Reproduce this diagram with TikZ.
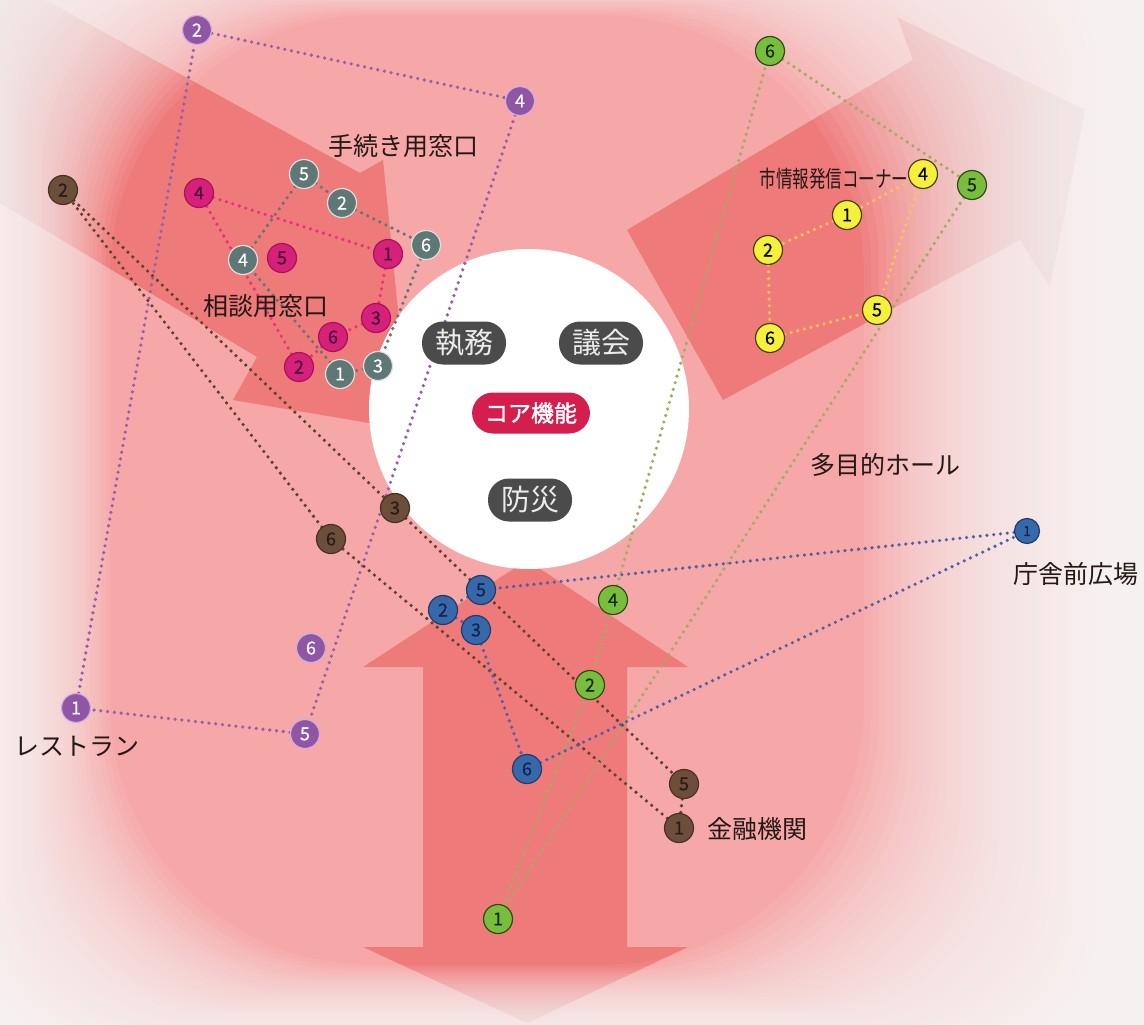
\documentclass[tikz,border=0pt]{standalone}
\usepackage{fontspec}
\usepackage{graphicx}
\newfontfamily\jp{Noto Sans CJK JP}
\newfontfamily\jpb[FakeBold=1.6]{Noto Sans CJK JP}
\newfontfamily\jpn[FakeBold=0.6]{Noto Sans CJK JP}

\definecolor{bgpink}{RGB}{246,168,168}
\definecolor{arrowc}{RGB}{238,122,122}
\definecolor{txt}{RGB}{35,24,21}
\definecolor{pillc}{RGB}{75,75,75}
\definecolor{pilltxt}{RGB}{235,235,235}
\definecolor{corec}{RGB}{212,30,78}
% node colours
\definecolor{puF}{RGB}{145,85,165}\definecolor{puD}{RGB}{205,175,220}\definecolor{puL}{RGB}{150,95,170}
\definecolor{brF}{RGB}{108,78,58}\definecolor{brD}{RGB}{70,50,35}\definecolor{brT}{RGB}{40,28,20}\definecolor{brL}{RGB}{95,65,45}
\definecolor{maF}{RGB}{215,32,122}\definecolor{maD}{RGB}{165,20,90}\definecolor{maT}{RGB}{70,15,60}\definecolor{maL}{RGB}{235,50,120}
\definecolor{grF}{RGB}{95,120,118}\definecolor{grD}{RGB}{215,225,222}\definecolor{grL}{RGB}{100,118,113}
\definecolor{yeF}{RGB}{245,240,60}\definecolor{yeD}{RGB}{70,65,20}\definecolor{yeL}{RGB}{250,195,90}
\definecolor{gnF}{RGB}{120,190,60}\definecolor{gnD}{RGB}{45,75,25}\definecolor{gnT}{RGB}{20,40,10}\definecolor{gnL}{RGB}{165,170,100}
\definecolor{blF}{RGB}{55,105,170}\definecolor{blD}{RGB}{30,60,110}\definecolor{blT}{RGB}{20,35,80}\definecolor{blL}{RGB}{85,95,160}

\pgfdeclarelayer{bg}
\pgfdeclarelayer{ln}
\pgfsetlayers{bg,ln,main}

\tikzset{
  num/.style={circle, minimum size=29pt, inner sep=0pt, line width=1.2pt, font=\jpn\fontsize{18}{18}\selectfont},
  pu/.style={num, fill=puF, draw=puD, text=white},
  br/.style={num, fill=brF, draw=brD, text=brT},
  ma/.style={num, fill=maF, draw=maD, text=maT},
  gr/.style={num, fill=grF, draw=grD, text=white},
  ye/.style={num, fill=yeF, draw=yeD, text=black},
  gn/.style={num, fill=gnF, draw=gnD, text=gnT},
  bl/.style={num, fill=blF, draw=blD, text=blT},
  dots/.style={line width=3.6pt, line cap=round, dash pattern=on 0pt off 6.8pt},
  lbl/.style={font=\jp\fontsize{25}{25}\selectfont, text=txt, inner sep=0pt},
  pill/.style={rounded corners=21pt, fill=pillc, text=pilltxt, minimum height=43pt, inner xsep=13pt, inner ysep=0pt, font=\jp\fontsize{29}{29}\selectfont},
  veil/.style={fill=white, fill opacity=0.065, even odd rule},
}

\begin{document}
\begin{tikzpicture}[x=1pt,y=-1pt]
\useasboundingbox (0,0) rectangle (1144,1025);
\begin{pgfonlayer}{bg}
  \clip (0,0) rectangle (1144,1025);
  \fill[bgpink] (0,0) rectangle (1144,1025);
  % left arrow
  \fill[arrowc] (-60,-58) -- (360,173) -- (383,160) -- (410,430) -- (233,400) -- (257,357) -- (-60,167) -- cycle;
  % right arrow
  \fill[arrowc] (627,230) -- (913,60) -- (897,17) -- (1085,110) -- (1050,287) -- (1020,240) -- (723,400) -- cycle;
  % bottom double arrow
  \fill[arrowc] (527,560) -- (688,667) -- (627,667) -- (627,947) -- (688,947) -- (527,1023) -- (363,947) -- (423,947) -- (423,667) -- (363,667) -- cycle;
  % white vignette built from nested frames
  \foreach \t in {0.025,0.05,...,1.01}{
    \pgfmathsetmacro{\xl}{-60+170*\t}
    \pgfmathsetmacro{\yt}{-80+95*\t}
    \pgfmathsetmacro{\xr}{1164-300*\t}
    \pgfmathsetmacro{\yb}{1075-110*\t}
    \pgfmathsetmacro{\rc}{90+170*\t}
    \fill[veil] (-200,-200) rectangle (1400,1300)
      [rounded corners=\rc pt] (\xl,\yt) rectangle (\xr,\yb);
  }
  % core circle
  \fill[white] (529,409) circle[radius=160];
\end{pgfonlayer}

% core labels
\node[pill] (shitsumu) at (464,343) {執務};
\node[pill] (gikai) at (601,343) {議会};
\node[pill, fill=corec, text=white, font=\jpb\fontsize{23}{23}\selectfont, minimum height=41pt] (core) at (531,413) {コア機能};
\node[pill] (bosai) at (530,500) {防災};

% purple
\node[pu] (p1) at (76,708) {1};
\node[pu] (p2) at (197,30) {2};
\node[pu] (p4) at (520,101) {4};
\node[pu] (p5) at (305,734) {5};
\node[pu] (p6) at (311,648) {6};
% brown
\node[br] (b1) at (679,828) {1};
\node[br] (b2) at (63,190) {2};
\node[br] (b3) at (395,508) {3};
\node[br] (b5) at (684,784) {5};
\node[br] (b6) at (331,539) {6};
% magenta
\node[ma] (m1) at (388,254) {1};
\node[ma] (m2) at (299,367) {2};
\node[ma] (m3) at (376,318) {3};
\node[ma] (m4) at (199,193) {4};
\node[ma] (m5) at (282,258) {5};
\node[ma] (m6) at (333,337) {6};
% gray
\node[gr] (g1) at (340,374) {1};
\node[gr] (g2) at (342,203) {2};
\node[gr] (g3) at (378,366) {3};
\node[gr] (g4) at (243,260) {4};
\node[gr] (g5) at (304,174) {5};
\node[gr] (g6) at (426,245) {6};
% yellow
\node[ye] (y1) at (847,215) {1};
\node[ye] (y2) at (768,250) {2};
\node[ye] (y4) at (923,174) {4};
\node[ye] (y5) at (877,310) {5};
\node[ye] (y6) at (770,338) {6};
% green
\node[gn] (n1) at (498,919) {1};
\node[gn] (n2) at (590,685) {2};
\node[gn] (n4) at (613,600) {4};
\node[gn] (n5) at (972,185) {5};
\node[gn] (n6) at (770,51) {6};
% blue
\node[bl, minimum size=25pt, font=\jpn\fontsize{14}{14}\selectfont] (l1) at (1027,531) {1};
\node[bl] (l2) at (443,610) {2};
\node[bl] (l3) at (476,630) {3};
\node[bl] (l5) at (481,590) {5};
\node[bl] (l6) at (527,769) {6};

\begin{pgfonlayer}{ln}
  \draw[dots, puL] (p1) -- (p2) -- (p4) -- (p5) -- (p1);
  \draw[dots, brL] (b2) -- (b3) -- (b5) -- (b1) -- (b6) -- (b2);
  \draw[dots, maL] (m4) -- (m1) -- (m3) -- (m6) -- (m2) -- (m4);
  \draw[dots, grL] (g5) -- (g2) -- (g6) -- (g3) -- (g1) -- (g4) -- (g5);
  \draw[dots, yeL] (y4) -- (y1) -- (y2) -- (y6) -- (y5) -- (y4);
  \draw[dots, gnL] (n6) -- (n5) -- (n1) -- (n2) -- (n4) -- (n6);
  \draw[dots, blL] (l1) -- (l5) -- (l2) -- (l3) -- (l6) -- (l1);
\end{pgfonlayer}

% place labels
\node[lbl] (tetsuzuki) at (403,146) {手続き用窓口};
\node[lbl] (soudan) at (266,306) {相談用窓口};
\node[lbl, font=\jp\fontsize{23}{23}\selectfont] (shijoho) at (834,179) {\scalebox{0.72}[1]{市情報発信コーナー}};
\node[lbl] (hall) at (885,465) {多目的ホール};
\node[lbl] (hiroba) at (1076,574) {庁舎前広場};
\node[lbl] (kinyu) at (757,829) {金融機関};
\node[lbl] (resto) at (77,746) {レストラン};
\end{tikzpicture}
\end{document}
